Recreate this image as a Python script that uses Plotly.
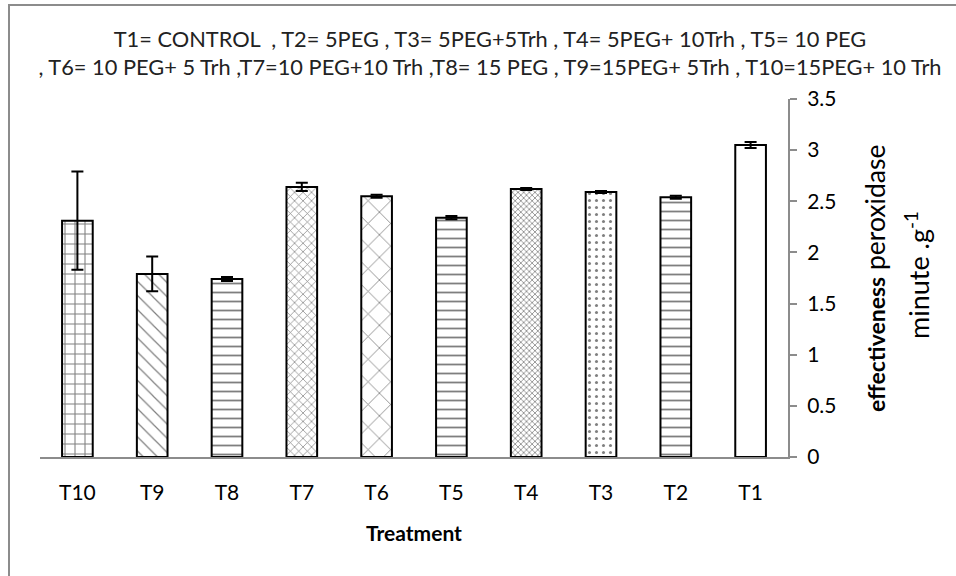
import plotly.graph_objects as go

categories = ["T10", "T9", "T8", "T7", "T6", "T5", "T4", "T3", "T2", "T1"]
values = [2.31, 1.79, 1.74, 2.64, 2.55, 2.34, 2.62, 2.59, 2.54, 3.05]
errors = [0.48, 0.17, 0.02, 0.04, 0.015, 0.015, 0.01, 0.01, 0.015, 0.03]
patterns = ["+", "\\", "-", "x", "x", "-", "x", ".", "-", ""]
pattern_sizes = [10, 10, 9, 6, 16, 9, 4, 7, 9, 8]
pattern_solidity = [0.2, 0.12, 0.2, 0.22, 0.1, 0.2, 0.35, 0.15, 0.2, 0.2]
y_ticks = [0, 0.5, 1, 1.5, 2, 2.5, 3, 3.5]

FONT = "Lato"
W, H = 956, 576
ML, MR, MT, MB = 40, 168, 99, 119
pw = W - ML - MR
ph = H - MT - MB


def px_x(p):
    return (p - ML) / pw


def px_y(p):
    return (H - MB - p) / ph


fig = go.Figure()
fig.add_trace(go.Bar(
    x=categories, y=values,
    width=0.41,
    marker=dict(
        color="white",
        line=dict(color="black", width=2),
        pattern=dict(shape=patterns, size=pattern_sizes, solidity=pattern_solidity,
                     fgcolor="black", bgcolor="white", fillmode="overlay"),
    ),
    error_y=dict(type="data", array=errors, visible=True, color="black",
                 thickness=2, width=6),
    showlegend=False,
))

# outer chart frame (gray), starting near the image's top-left corner
fig.add_shape(type="rect", xref="paper", yref="paper",
              x0=px_x(9), x1=px_x(W + 10), y0=px_y(H + 10), y1=px_y(5),
              line=dict(color="#8c8c8c", width=2), fillcolor="rgba(0,0,0,0)", layer="below")

# y-axis title (two rotated lines on the right)
fig.add_annotation(xref="paper", yref="paper", x=px_x(875), y=px_y(278),
                   text="<b><span style='font-size:23px'>effectiveness</span></b> peroxidase",
                   textangle=-90, showarrow=False, xanchor="center", yanchor="middle",
                   font=dict(family=FONT, size=26.5, color="black"))
fig.add_annotation(xref="paper", yref="paper", x=px_x(917), y=px_y(275),
                   text="minute .g<sup>-1</sup>",
                   textangle=-90, showarrow=False, xanchor="center", yanchor="middle",
                   font=dict(family=FONT, size=27, color="black"))

fig.update_layout(
    width=W, height=H,
    margin=dict(l=ML, r=MR, t=MT, b=MB),
    paper_bgcolor="white", plot_bgcolor="white",
    font=dict(family=FONT, color="black"),
    bargap=0.59,
    title=dict(
        text="T1= CONTROL  , T2= 5PEG , T3= 5PEG+5Trh , T4= 5PEG+ 10Trh , T5= 10 PEG<br>"
             ", T6= 10 PEG+ 5 Trh ,T7=10 PEG+10 Trh ,T8= 15 PEG , T9=15PEG+ 5Trh , T10=15PEG+ 10 Trh",
        x=490 / W, xref="container", xanchor="center",
        y=1 - 47 / H, yanchor="middle",
        font=dict(family=FONT, size=21.8, color="#222222"),
    ),
    xaxis=dict(
        type="category",
        showline=True, linecolor="#8c8c8c", linewidth=2,
        ticks="", showgrid=False,
        tickfont=dict(family=FONT, size=21, color="black"),
        ticklabelstandoff=16,
        title=dict(text="<b>Treatment</b>", font=dict(family=FONT, size=21, color="black"), standoff=23),
    ),
    yaxis=dict(
        side="right", range=[0, 3.5],
        tickvals=y_ticks, ticktext=[f"{v:g}" for v in y_ticks],
        showline=True, linecolor="#8c8c8c", linewidth=2,
        ticks="outside", ticklen=7, tickcolor="#8c8c8c", tickwidth=2,
        ticklabelstandoff=6,
        showgrid=False, zeroline=False,
        tickfont=dict(family=FONT, size=21, color="black"),
    ),
)

fig.write_html("out.html", config={"displayModeBar": False},
               post_script="document.body.style.margin='0px';document.body.style.overflow='hidden';")
